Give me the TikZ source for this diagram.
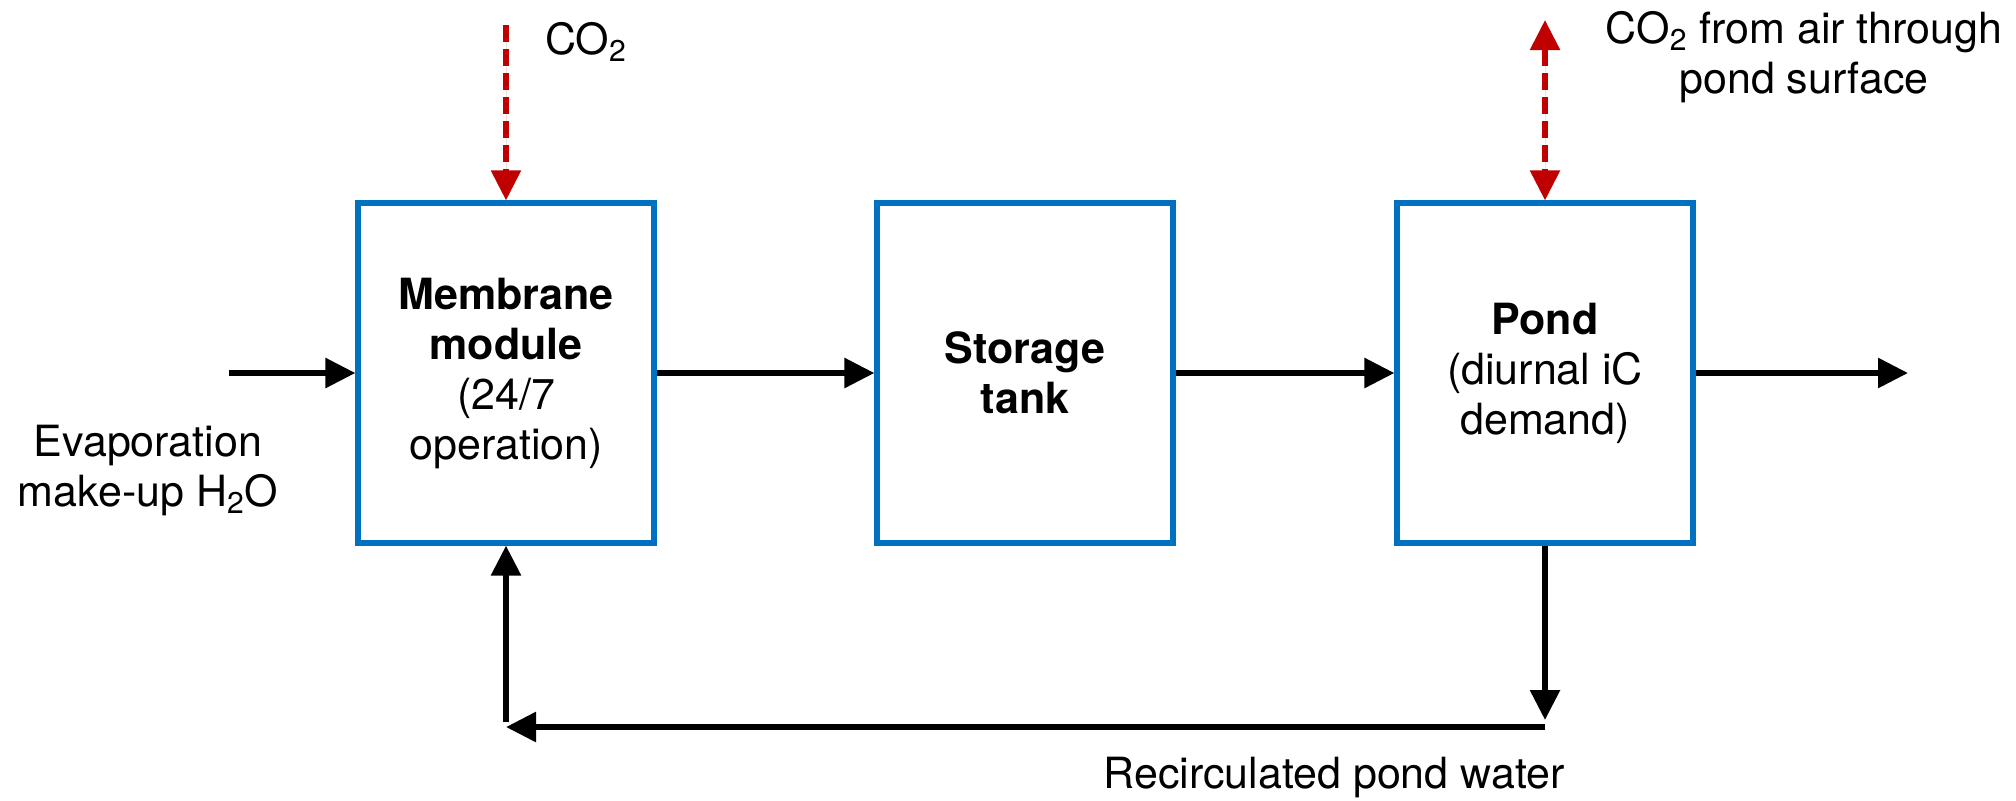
\documentclass[tikz,border=0pt]{standalone}
\usepackage{fontspec}
\setmainfont{TeX Gyre Heros}
\usetikzlibrary{arrows.meta}
\definecolor{boxblue}{HTML}{0070C0}
\definecolor{co2red}{HTML}{C00000}
\begin{document}
\begin{tikzpicture}[x=0.5pt,y=-0.5pt,
  font=\fontsize{21.5pt}{25pt}\selectfont,
  blk/.style={draw=boxblue, line width=2.6pt, minimum width=148pt, minimum height=170pt, inner sep=0pt, align=center},
  flow/.style={line width=2.9pt, -{Triangle[length=15pt,width=14.5pt]}},
  gas/.style={draw=co2red, fill=co2red, line width=2.7pt, dash pattern=on 8.5pt off 3.5pt},
  gastip/.style={-{Triangle[length=15pt,width=14.5pt]}},
  gasboth/.style={{Triangle[length=15pt,width=14.5pt]}-{Triangle[length=15pt,width=14.5pt]}},
  lbl/.style={align=center, inner sep=0pt}]
\useasboundingbox (0,0) rectangle (2016,800);

\node[blk] (mem) at (506,373) {\textbf{Membrane}\\\textbf{module}\\(24/7\\operation)};
\node[blk] (tank) at (1025,373) {\textbf{Storage}\\\textbf{tank}};
\node[blk] (pond) at (1545,373) {\textbf{Pond}\\(diurnal iC\\demand)};

\coordinate (in) at (229,373);
\coordinate (out) at (1908,373);
\draw[flow] (in) -- (mem.west);
\draw[flow] (mem.east) -- (tank.west);
\draw[flow] (tank.east) -- (pond.west);
\draw[flow] (pond.east) -- (out);

\coordinate (co2a) at (506,25);
\coordinate (co2b) at (1545,20);
\draw[gas,gastip] (co2a) -- (mem.north);
\draw[gas,gasboth] (co2b) -- (pond.north);

\coordinate (r1) at (1545,720);
\coordinate (r2) at (1545,727);
\coordinate (r3) at (506,727);
\coordinate (r4) at (506,722);
\draw[flow] (pond.south) -- (r1);
\draw[flow] (r2) -- (r3);
\draw[flow] (r4) -- (mem.south);

\node[lbl] (co2lbl) at (586,42) {CO\textsubscript{2}};
\node[lbl] (airlbl) at (1804,57) {CO\textsubscript{2} from air through\\pond surface};
\node[lbl] (evap) at (148,470) {Evaporation\\make-up H\textsubscript{2}O};
\node[lbl] (recirc) at (1334,777) {Recirculated pond water};
\end{tikzpicture}
\end{document}
